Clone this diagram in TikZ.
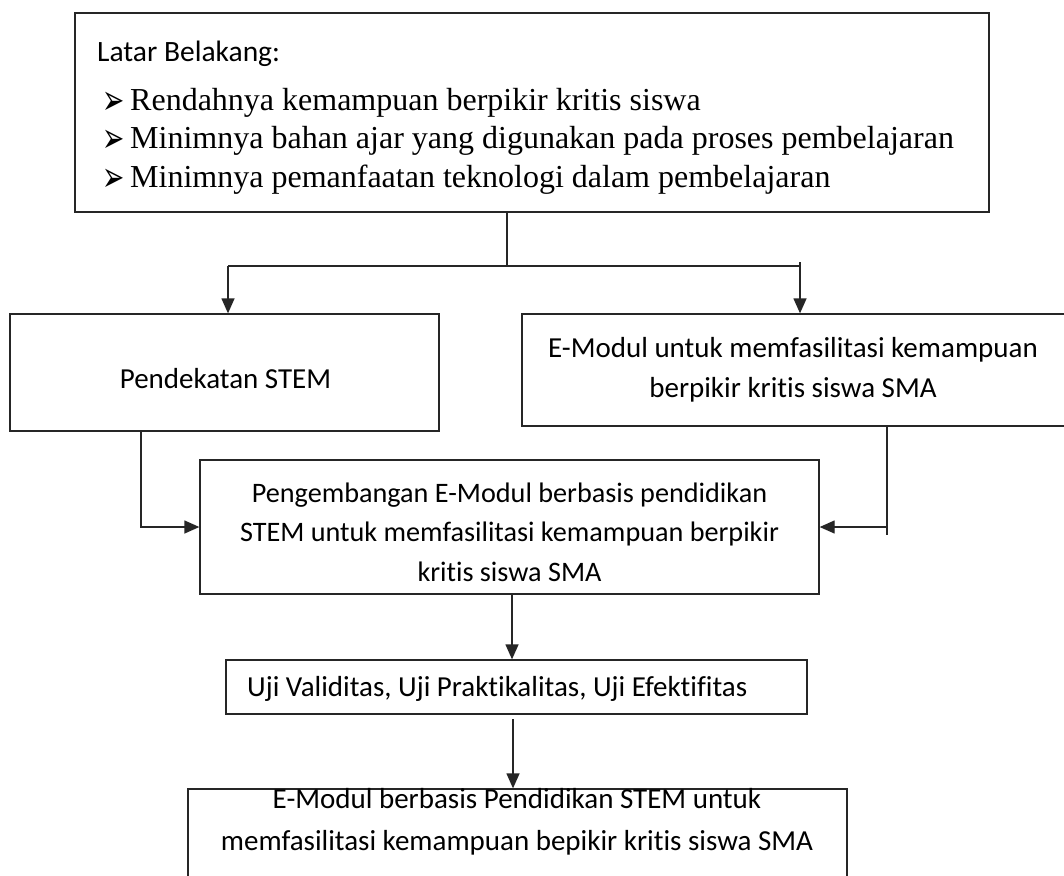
\documentclass[tikz,border=0pt]{standalone}
\usepackage{graphicx}
\usepackage{fontspec}
\setmainfont{Liberation Serif}
\newfontfamily\calib[Ligatures=NoCommon]{Carlito}
\newfontfamily\dejavu{DejaVu Sans}
\usetikzlibrary{arrows.meta}
\newcommand{\arrbullet}{\scalebox{0.95}[1.5]{➢}}
\begin{document}
\begin{tikzpicture}[x=1pt,y=-1pt,
  box/.style={draw=black!85, line width=1.3pt, inner sep=0pt},
  conn/.style={draw=black!85, line width=1.3pt},
  arr/.style={conn, -{Triangle[length=15pt,width=13pt]}},
  cal/.style={inner sep=0pt, align=center, font=\calib\fontsize{29}{40}\selectfont},
  bul/.style={anchor=base west, inner sep=0pt, font=\fontsize{32}{36}\selectfont},
  bulmark/.style={anchor=base west, inner sep=0pt, font=\dejavu\fontsize{28}{30}\selectfont}]
\clip (0,0) rectangle (1064,875);
\fill[white] (0,0) rectangle (1064,875);
% top box
\node[box, minimum width=914pt, minimum height=199pt] (top) at (532,112.5) {};
\node[cal, anchor=base west, font=\calib\fontsize{29.5}{40}\selectfont] (lb) at (97,62) {Latar Belakang:};
\node[bulmark] (m1) at (102,114) {\arrbullet};
\node[bul] (b1) at (130,110) {Rendahnya kemampuan berpikir kritis siswa};
\node[bulmark] (m2) at (102,152) {\arrbullet};
\node[bul] (b2) at (130,148) {Minimnya bahan ajar yang digunakan pada proses pembelajaran};
\node[bulmark] (m3) at (102,191) {\arrbullet};
\node[bul] (b3) at (130,187) {Minimnya pemanfaatan teknologi dalam pembelajaran};
% second row
\node[box, minimum width=429pt, minimum height=117pt] (lft) at (224.5,372.5) {};
\node[cal] (lftt) at (225.5,379) {Pendekatan STEM};
\node[box, minimum width=555pt, minimum height=112pt] (rgt) at (799.5,370) {};
\node[cal] (rgtt) at (793,370)
  {E-Modul untuk memfasilitasi kemampuan\\berpikir kritis siswa SMA};
% middle
\node[box, minimum width=619pt, minimum height=134pt] (mid) at (509.5,527) {};
\node[cal, font=\calib\fontsize{28.2}{39.5}\selectfont] (midt) at (509.5,532)
  {Pengembangan E-Modul berbasis pendidikan\\STEM untuk memfasilitasi kemampuan berpikir\\kritis siswa SMA};
% uji
\node[box, minimum width=581pt, minimum height=54pt] (uji) at (516.5,687) {};
\node[cal, anchor=west] (ujit) at (247,689) {Uji Validitas, Uji Praktikalitas, Uji Efektifitas};
% bottom
\node[box, minimum width=659pt, minimum height=140pt] (bot) at (517.5,859) {};
\node[cal, font=\calib\fontsize{29}{42.5}\selectfont] (bt) at (517,822)
  {E-Modul berbasis Pendidikan STEM untuk\\memfasilitasi kemampuan bepikir kritis siswa SMA};
% connectors
\coordinate (j) at (507,266);
\coordinate (jl) at (228,266);
\coordinate (jr) at (800,266);
\coordinate (jr0) at (800,262);
\draw[conn] (top.south -| j) -- (j);
\draw[conn] (jl) -- (jr);
\draw[arr] (jl) -- (lft.north -| jl);
\draw[arr] (jr0) -- (rgt.north -| jr0);
\coordinate (cl) at (141,0);
\draw[arr] (lft.south -| cl) |- (mid.west);
\coordinate (cr) at (887,535);
\draw[conn] (rgt.south -| cr) -- (cr);
\draw[arr] (mid.east -| cr) -- (mid.east);
\coordinate (a1) at (512,0);
\draw[arr] (mid.south -| a1) -- (uji.north -| a1);
\coordinate (a2) at (513,719);
\draw[arr] (a2) -- (bot.north -| a2);
\end{tikzpicture}
\end{document}
